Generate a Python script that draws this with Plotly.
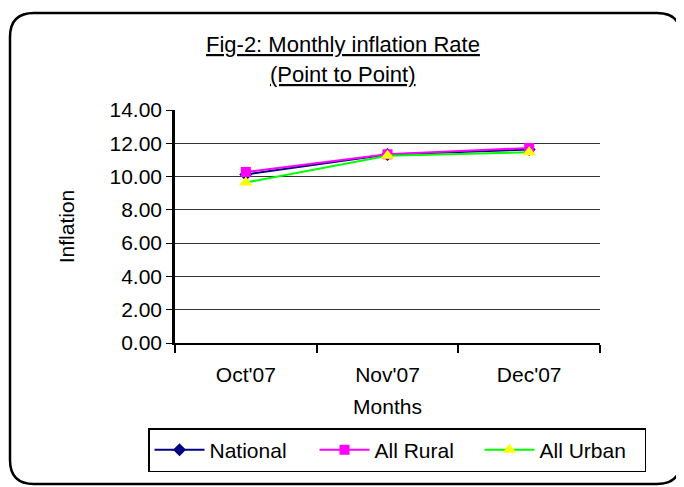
import plotly.graph_objects as go

months = ["Oct'07", "Nov'07", "Dec'07"]
national = [10.13, 11.32, 11.62]
all_rural = [10.28, 11.34, 11.72]
all_urban = [9.64, 11.25, 11.46]
y_ticks = [0, 2, 4, 6, 8, 10, 12, 14]

# the page puts the figure 8px in from the top-left corner
OFF = 8
W, H = 684 - OFF, 487 - OFF
L, T = 175 - OFF, 110 - OFF
R, B = W - (600 - OFF), H - (343 - OFF)
pw, ph = W - L - R, H - T - B


def px_x(x):
    return (x - OFF - L) / pw


def px_y(y):
    return (H - B - (y - OFF)) / ph


fig = go.Figure()
fig.add_trace(go.Scatter(x=months, y=national, name="National", mode="lines+markers",
                         line=dict(color="#000080", width=2),
                         marker=dict(symbol="diamond", size=10, color="#000080")))
fig.add_trace(go.Scatter(x=months, y=all_rural, name="All Rural", mode="lines+markers",
                         line=dict(color="#ff00ff", width=2),
                         marker=dict(symbol="square", size=10, color="#ff00ff")))
fig.add_trace(go.Scatter(x=months, y=all_urban, name="All Urban", mode="lines+markers",
                         line=dict(color="#00ff00", width=2),
                         marker=dict(symbol="triangle-up", size=12, color="#ffff00")))

# rounded outer frame
x0, x1, y0, y1, r = 10, 681, 13, 484, 24
path = (f"M {px_x(x0)} {px_y(y0 + r)} Q {px_x(x0)} {px_y(y0)} {px_x(x0 + r)} {px_y(y0)} "
        f"L {px_x(x1 - r)} {px_y(y0)} Q {px_x(x1)} {px_y(y0)} {px_x(x1)} {px_y(y0 + r)} "
        f"L {px_x(x1)} {px_y(y1 - r)} Q {px_x(x1)} {px_y(y1)} {px_x(x1 - r)} {px_y(y1)} "
        f"L {px_x(x0 + r)} {px_y(y1)} Q {px_x(x0)} {px_y(y1)} {px_x(x0)} {px_y(y1 - r)} Z")
fig.add_shape(type="path", path=path, xref="paper", yref="paper",
              line=dict(color="black", width=2.5))

for txt, ty in [("<u>Fig-2: Monthly inflation Rate</u>", 45), ("<u>(Point to Point)</u>", 74)]:
    fig.add_annotation(text=txt, x=px_x(343), y=px_y(ty), xref="paper", yref="paper",
                       showarrow=False, font=dict(size=22, color="black"),
                       xanchor="center", yanchor="middle")

fig.update_xaxes(
    range=[-0.5, 2.5],
    tickson="boundaries", ticks="outside", ticklen=8, tickcolor="black", tickwidth=1.5,
    ticklabelstandoff=12,
    showline=True, linecolor="black", linewidth=1.5, showgrid=False,
    title=dict(text="Months", font=dict(size=21, color="black"), standoff=14),
    tickfont=dict(size=21, color="black"),
)
fig.update_yaxes(
    range=[0, 14], tickvals=y_ticks, tickformat=".2f",
    ticks="outside", ticklen=6, tickcolor="black",
    showline=True, linecolor="black", linewidth=2.5,
    showgrid=True, gridcolor="#333333", gridwidth=1.2,
    title=dict(text="Inflation", font=dict(size=21, color="black"), standoff=30),
    tickfont=dict(size=21, color="black"),
)

fig.update_layout(
    width=W, height=H,
    margin=dict(l=L, r=R, t=T, b=B, autoexpand=False),
    plot_bgcolor="white", paper_bgcolor="white",
    font=dict(family="Arial, Liberation Sans, sans-serif", color="black"),
    legend=dict(orientation="h", xref="paper", yref="paper",
                x=px_x(148), y=px_y(450), xanchor="left", yanchor="middle",
                bordercolor="black", borderwidth=1.5, font=dict(size=21),
                itemwidth=50, entrywidth=100, tracegroupgap=0),
)

fig.write_html("out.html")
